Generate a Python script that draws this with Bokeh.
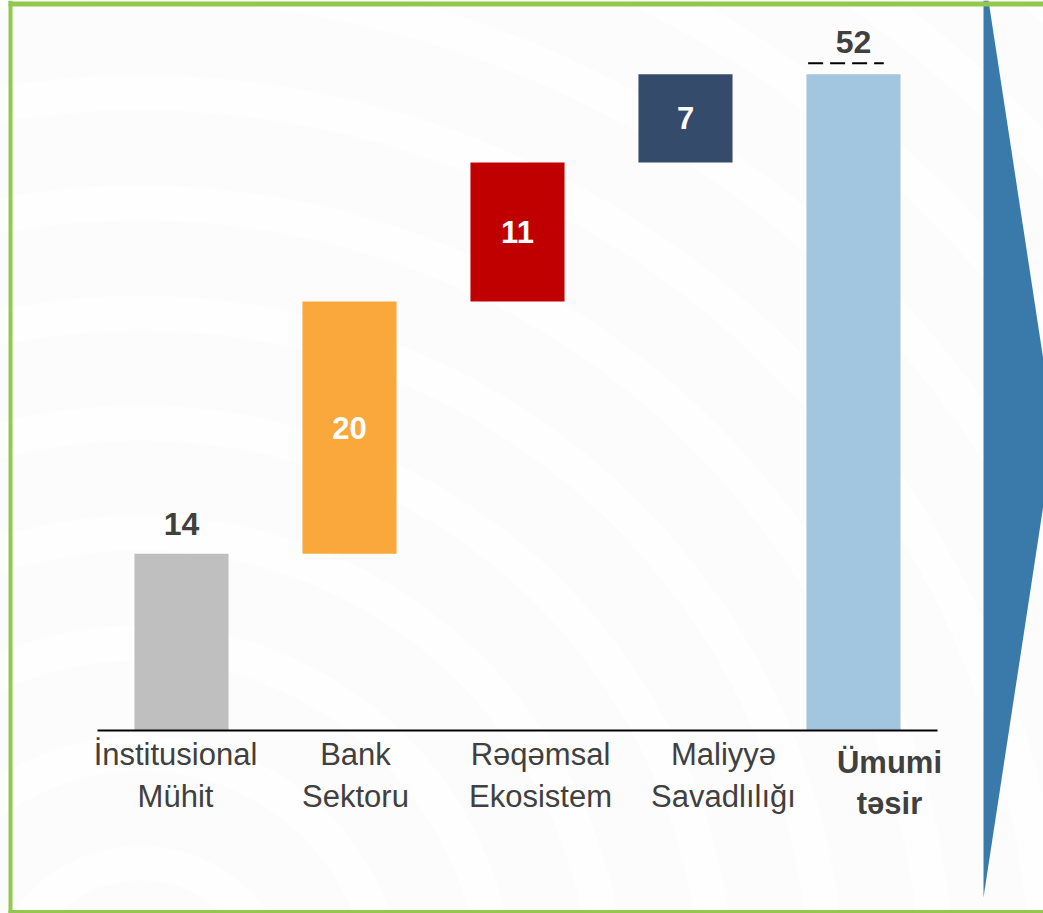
import numpy as np
from bokeh.plotting import figure
from bokeh.models import Range1d, ColumnDataSource
from bokeh.core.properties import value
from bokeh.embed import file_html
from bokeh.resources import INLINE

# ---- data ----
categories = ["İnstitusional\nMühit", "Bank\nSektoru", "Rəqəmsal\nEkosistem",
              "Maliyyə\nSavadlılığı", "Ümumi\ntəsir"]
contributions = [14, 20, 11, 7]
total = 52
bar_colors = ["#BFBFBF", "#FAA83C", "#C00000", "#354B6C", "#A2C5E0"]

# ---- geometry / styling (pixel layout) ----
W, H = 1043, 913
PX_PER_CAT = 168.0
FIRST_CENTER_PX = 181.0
BASE_PX = 730.0
PX_PER_UNIT = 12.62
YFIX = -12  # baseline correction for text rendering

n = len(categories)
idx = np.arange(n)

p = figure(width=W, height=H, output_backend="svg", toolbar_location=None,
           x_axis_type=None, y_axis_type=None, min_border=0,
           x_range=Range1d(-FIRST_CENTER_PX / PX_PER_CAT, (W - FIRST_CENTER_PX) / PX_PER_CAT),
           y_range=Range1d(-(H - BASE_PX) / PX_PER_UNIT, BASE_PX / PX_PER_UNIT))
p.grid.visible = False
p.outline_line_color = None
p.background_fill_color = "#FCFCFC"
p.border_fill_color = "#FCFCFC"

# pixel ranges for decoration
p.extra_x_ranges = {"px": Range1d(0, W)}
p.extra_y_ranges = {"px": Range1d(H, 0)}

# faint background rings
for r in range(120, 1400, 110):
    p.annular_wedge(x=[140], y=[1000], inner_radius=r, outer_radius=r + 35,
                    start_angle=0, end_angle=2 * np.pi, fill_color="white",
                    fill_alpha=0.6, line_color=None,
                    x_range_name="px", y_range_name="px",
                    inner_radius_units="screen", outer_radius_units="screen")

# waterfall bars
cum = np.cumsum(contributions)
bottoms = list(np.concatenate([[0], cum[:-1]])) + [0]
tops = list(cum) + [total]
src = ColumnDataSource(dict(x=idx, bottom=bottoms, top=tops, color=bar_colors))
p.vbar(x="x", bottom="bottom", top="top", width=0.56, fill_color="color",
       line_color=None, source=src)

# baseline axis line
p.segment(x0=[-0.5], y0=[0], x1=[n - 0.5], y1=[0], line_color="black", line_width=2)

# value labels
vals = contributions + [total]
p.text(x=[idx[0]], y=[tops[0]], text=[str(vals[0])], text_font=value("Liberation Sans"),
       text_font_style="bold", text_font_size="32px", text_color="#404040",
       text_align="center", text_baseline="alphabetic", y_offset=-18 + YFIX)
mid_x = idx[1:n - 1]
mid_y = [(b + t) / 2 for b, t in zip(bottoms[1:n - 1], tops[1:n - 1])]
p.text(x=list(mid_x), y=mid_y, text=[str(v) for v in vals[1:n - 1]],
       text_font=value("Liberation Sans"), text_font_style="bold",
       text_font_size="31px", text_color="white", text_align="center",
       text_baseline="alphabetic", y_offset=12 + YFIX)
p.text(x=[idx[-1]], y=[total], text=[str(total)], text_font=value("Liberation Sans"),
       text_font_style="bold", text_font_size="32px", text_color="#404040",
       text_align="center", text_baseline="alphabetic", y_offset=-20 + YFIX)
# dashed marker above the total
p.segment(x0=[idx[-1] - 0.27], y0=[total + 0.87], x1=[idx[-1] + 0.18], y1=[total + 0.87],
          line_color="black", line_width=2, line_dash="15 7")

# category labels (two lines each)
line1 = [c.split("\n")[0] for c in categories]
line2 = [c.split("\n")[1] for c in categories]
label_dx = [-6, 6, 23, 38, 36]
norm = list(range(n - 1))
lsrc = ColumnDataSource(dict(x=[idx[i] for i in norm], l1=[line1[i] for i in norm],
                             l2=[line2[i] for i in norm], dx=[label_dx[i] for i in norm],
                             y=[0] * len(norm)))
p.text(x="x", y="y", text="l1", x_offset="dx", y_offset=36 + YFIX, source=lsrc,
       text_font=value("Liberation Sans"), text_font_size="31px", text_color="#404040",
       text_align="center", text_baseline="alphabetic")
p.text(x="x", y="y", text="l2", x_offset="dx", y_offset=78 + YFIX, source=lsrc,
       text_font=value("Liberation Sans"), text_font_size="31px", text_color="#404040",
       text_align="center", text_baseline="alphabetic")
p.text(x=[idx[-1]], y=[0], text=[line1[-1]], x_offset=label_dx[-1], y_offset=44 + YFIX,
       text_font=value("Liberation Sans"), text_font_style="bold", text_font_size="31px",
       text_color="#404040", text_align="center", text_baseline="alphabetic")
p.text(x=[idx[-1]], y=[0], text=[line2[-1]], x_offset=label_dx[-1], y_offset=85 + YFIX,
       text_font=value("Liberation Sans"), text_font_style="bold", text_font_size="31px",
       text_color="#404040", text_align="center", text_baseline="alphabetic")

# blue chevron on the right
p.patch(x=[983, 988, 1054, 983], y=[0, 0, 432, 897], fill_color="#3A7AAA",
        line_color=None, x_range_name="px", y_range_name="px")

# green frame
green = "#92C84E"
p.segment(x0=[8, 10, 8], y0=[3.5, 0, 911.5], x1=[W, 10, W], y1=[3.5, 913, 911.5],
          line_color=green, line_width=[5, 4, 4], x_range_name="px", y_range_name="px")

open("out.html", "w").write(file_html(p, INLINE))
